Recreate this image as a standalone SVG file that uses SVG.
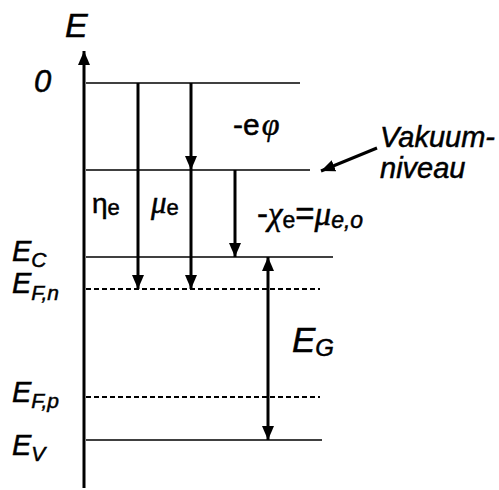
<svg xmlns="http://www.w3.org/2000/svg" width="499" height="490" viewBox="0 0 499 490">
<defs>
<marker id="ah" viewBox="0 0 14 12" refX="14" refY="6" markerWidth="14" markerHeight="12" markerUnits="userSpaceOnUse" orient="auto-start-reverse"><path d="M0,0 L14,6 L0,12 z" fill="#000"/></marker>
</defs>
<style>
text{font-family:"Liberation Sans",Arial,sans-serif;fill:#000;stroke:#000;stroke-width:0.5}
.i{font-style:italic}
.g{font-family:"Liberation Serif","Times New Roman",serif;font-style:italic}
.lvl{stroke:#000;stroke-width:1.5;fill:none}
.dash{stroke:#000;stroke-width:2;stroke-dasharray:5,3;fill:none}
.arr{stroke:#000;stroke-width:3;fill:none}
</style>
<g id="levels">
<line class="lvl" x1="86" y1="83" x2="300" y2="83"/>
<line class="lvl" x1="86" y1="170" x2="310" y2="170"/>
<line class="lvl" x1="86" y1="257" x2="333" y2="257"/>
<line class="dash" x1="86" y1="289" x2="320" y2="289"/>
<line class="dash" x1="86" y1="397" x2="320" y2="397"/>
<line class="lvl" x1="86" y1="440" x2="322" y2="440"/>
</g>
<g id="connectors">
<line class="arr" x1="84" y1="488" x2="84" y2="51" marker-end="url(#ah)"/>
<line class="arr" x1="138" y1="83" x2="138" y2="289" marker-end="url(#ah)"/>
<line class="arr" x1="191" y1="83" x2="191" y2="170" marker-end="url(#ah)"/>
<line class="arr" x1="191" y1="170" x2="191" y2="289" marker-end="url(#ah)"/>
<line class="arr" x1="235" y1="170" x2="235" y2="257" marker-end="url(#ah)"/>
<line class="arr" x1="268" y1="257" x2="268" y2="440" marker-start="url(#ah)" marker-end="url(#ah)"/>
<line class="arr" x1="377" y1="148" x2="321" y2="171" marker-end="url(#ah)"/>
</g>
<g id="labels">
<text class="i" x="65" y="37" font-size="34">E</text>
<text class="i" x="34" y="92" font-size="31">0</text>
<text x="233" y="135" font-size="30">-e<tspan class="g" font-size="32" dx="2">φ</tspan></text>
<text class="i" x="380" y="147" font-size="29">Vakuum-</text>
<text class="i" x="380" y="178" font-size="29">niveau</text>
<text x="92" y="213" font-size="28">η<tspan font-size="22" dy="2">e</tspan></text>
<text x="151" y="213" font-size="31"><tspan class="g">μ</tspan><tspan font-size="22" dy="2">e</tspan></text>
<text x="257" y="225" font-size="33">-<tspan class="g">χ</tspan><tspan font-size="23" dy="3">e</tspan><tspan dy="-3">=</tspan><tspan class="g">μ</tspan><tspan class="i" font-size="23" dy="3">e,o</tspan></text>
<text class="i" x="12" y="261" font-size="29">E<tspan font-size="21" dy="6">C</tspan></text>
<text class="i" x="12" y="293" font-size="29">E<tspan font-size="21" dy="7">F,n</tspan></text>
<text class="i" x="12" y="402" font-size="29">E<tspan font-size="21" dy="6">F,p</tspan></text>
<text class="i" x="12" y="455" font-size="29">E<tspan font-size="21" dy="6">V</tspan></text>
<text class="i" x="292" y="352" font-size="35">E<tspan font-size="24" dy="4">G</tspan></text>
</g>
</svg>
